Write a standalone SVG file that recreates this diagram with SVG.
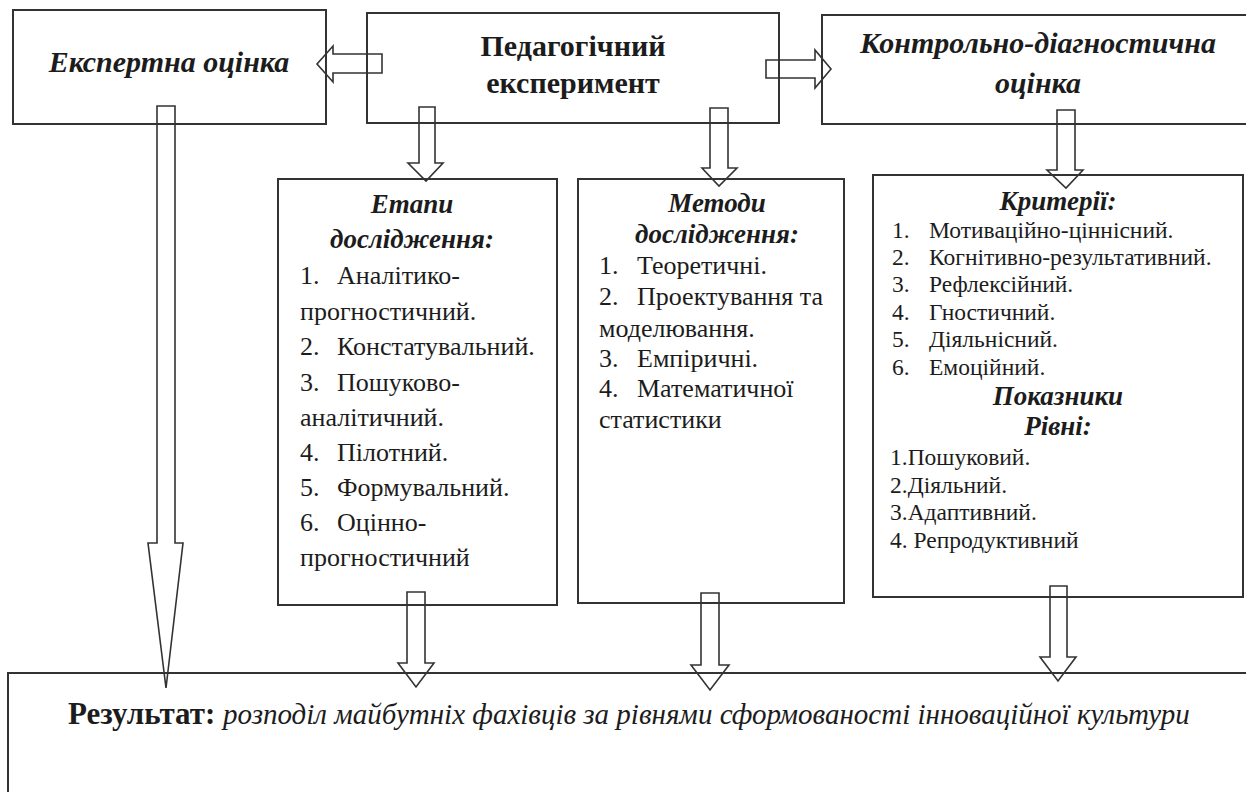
<svg xmlns="http://www.w3.org/2000/svg" width="1246" height="792" viewBox="0 0 1246 792">
<style>
.box{fill:#fff;stroke:#333;stroke-width:2}
.arr{fill:none;stroke:#333;stroke-width:1.6;stroke-linejoin:miter}
text{font-family:"Liberation Serif","Times New Roman",serif;fill:#1c1c1c}
.t1{font-size:30px;font-weight:bold}
.t1i{font-size:30px;font-weight:bold;font-style:italic}
.sub{font-size:27px;font-weight:bold;font-style:italic}
.li{font-size:26px}
.lk{font-size:23.5px}
.c{text-anchor:middle}
.res{font-size:31px;font-weight:bold}
.resi{font-size:29px;font-style:italic;font-weight:normal}
</style>
<rect width="1246" height="792" fill="#fff"/>
<g id="expert">
<rect class="box" x="13" y="10" width="313" height="114"/>
<text class="t1i c" x="169" y="72">Експертна оцінка</text>
</g>
<g id="pedexp">
<rect class="box" x="367" y="13" width="412" height="110"/>
<text class="t1 c" x="573" y="56">Педагогічний</text>
<text class="t1 c" x="573" y="93">експеримент</text>
</g>
<g id="control">
<rect class="box" x="822" y="15" width="440" height="109"/>
<text class="t1i c" x="1038" y="53">Контрольно-діагностична</text>
<text class="t1i c" x="1038" y="93">оцінка</text>
</g>
<g id="stages">
<rect class="box" x="278" y="179" width="279" height="426"/>
<text class="sub c" x="412" y="213">Етапи</text>
<text class="sub c" x="412" y="248">дослідження:</text>
<text class="li" x="300" y="284">1.</text><text class="li" x="337" y="284">Аналітико-</text>
<text class="li" x="300" y="320">прогностичний.</text>
<text class="li" x="300" y="355">2.</text><text class="li" x="337" y="355">Констатувальний.</text>
<text class="li" x="300" y="391">3.</text><text class="li" x="337" y="391">Пошуково-</text>
<text class="li" x="300" y="426">аналітичний.</text>
<text class="li" x="300" y="461">4.</text><text class="li" x="337" y="461">Пілотний.</text>
<text class="li" x="300" y="496">5.</text><text class="li" x="337" y="496">Формувальний.</text>
<text class="li" x="300" y="531">6.</text><text class="li" x="337" y="531">Оцінно-</text>
<text class="li" x="300" y="566">прогностичний</text>
</g>
<g id="methods">
<rect class="box" x="578" y="179" width="266" height="424"/>
<text class="sub c" x="717" y="212">Методи</text>
<text class="sub c" x="717" y="243">дослідження:</text>
<text class="li" x="599" y="274">1.</text><text class="li" x="637" y="274">Теоретичні.</text>
<text class="li" x="599" y="305">2.</text><text class="li" x="637" y="305">Проектування та</text>
<text class="li" x="599" y="337">моделювання.</text>
<text class="li" x="599" y="367">3.</text><text class="li" x="637" y="367">Емпіричні.</text>
<text class="li" x="599" y="397">4.</text><text class="li" x="637" y="397">Математичної</text>
<text class="li" x="599" y="428">статистики</text>
</g>
<g id="criteria">
<rect class="box" x="873" y="175" width="370" height="422"/>
<text class="sub c" x="1058" y="210">Критерії:</text>
<text class="lk" x="892" y="238">1.</text><text class="lk" x="929" y="238">Мотиваційно-ціннісний.</text>
<text class="lk" x="892" y="265">2.</text><text class="lk" x="929" y="265">Когнітивно-результативний.</text>
<text class="lk" x="892" y="292">3.</text><text class="lk" x="929" y="292">Рефлексійний.</text>
<text class="lk" x="892" y="320">4.</text><text class="lk" x="929" y="320">Гностичний.</text>
<text class="lk" x="892" y="347">5.</text><text class="lk" x="929" y="347">Діяльнісний.</text>
<text class="lk" x="892" y="375">6.</text><text class="lk" x="929" y="375">Емоційний.</text>
<text class="sub c" x="1058" y="405">Показники</text>
<text class="sub c" x="1058" y="435">Рівні:</text>
<text class="lk" x="890" y="465">1.Пошуковий.</text>
<text class="lk" x="890" y="493">2.Діяльний.</text>
<text class="lk" x="890" y="520">3.Адаптивний.</text>
<text class="lk" x="890" y="548">4. Репродуктивний</text>
</g>
<g id="result">
<rect class="box" x="8" y="673" width="1250" height="130"/>
<text x="68" y="724"><tspan class="res">Результат: </tspan><tspan class="resi">розподіл майбутніх фахівців за рівнями сформованості інноваційної культури</tspan></text>
</g>
<g id="connectors">
<polygon class="arr" points="382,54 333,54 333,46 317,64 333,82 333,73 382,73"/>
<polygon class="arr" points="766,60 815,60 815,50 831,69 815,88 815,78 766,78"/>
<polygon class="arr" points="419,107 435,107 435,163 443,163 426,181 408,163 419,163"/>
<polygon class="arr" points="710,108 728,108 728,168 737,168 719,186 702,168 710,168"/>
<polygon class="arr" points="1057,110 1075,110 1075,170 1083,170 1066,188 1047,170 1057,170"/>
<polygon class="arr" points="157,106 175,106 175,543 183,543 166,688 148,543 157,543"/>
<polygon class="arr" points="407,592 425,592 425,663 434,663 416,687 398,663 407,663"/>
<polygon class="arr" points="701,593 719,593 719,665 729,665 710,690 691,665 701,665"/>
<polygon class="arr" points="1050,586 1067,586 1067,657 1076,657 1058,681 1040,657 1050,657"/>
</g>
</svg>
